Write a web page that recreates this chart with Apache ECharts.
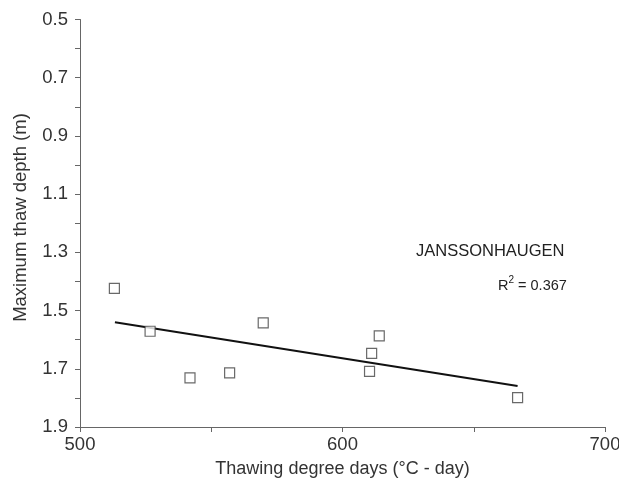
<!DOCTYPE html>
<html>
<head>
<meta charset="utf-8">
<script src="https://cdn.jsdelivr.net/npm/echarts@6/dist/echarts.min.js"></script>
<style>html,body{margin:0;padding:0;background:#fff;}#c{width:619px;height:483px;}</style>
</head>
<body>
<div id="c"></div>
<script>
var tdd = [513.1, 526.7, 541.9, 557.0, 569.8, 610.3, 611.1, 614.0, 666.7];
var depth = [1.424, 1.571, 1.731, 1.714, 1.542, 1.709, 1.647, 1.587, 1.799];
var trendX = [513.3, 666.7];
var trendY = [1.540, 1.759];
var xTickLabels = [500, 600, 700];
var yTickLabels = [0.5, 0.7, 0.9, 1.1, 1.3, 1.5, 1.7, 1.9];
var siteName = 'JANSSONHAUGEN';
var r2 = '0.367';
var xTitle = 'Thawing degree days (\u00B0C - day)';
var yTitle = 'Maximum thaw depth (m)';

var chart = echarts.init(document.getElementById('c'), null, {renderer: 'canvas'});
var font = 'Liberation Sans, Arial, sans-serif';
var axisCol = '#666';
var txtCol = '#333';

chart.setOption({
  animation: false,
  grid: {left: 80, right: 14, top: 19.5, bottom: 56, containLabel: false, outerBoundsMode: 'none'},
  xAxis: {
    type: 'value', min: 500, max: 700, interval: 50,
    name: xTitle, nameLocation: 'middle', nameGap: 33,
    nameTextStyle: {fontFamily: font, fontSize: 18, color: txtCol},
    axisLine: {show: true, lineStyle: {color: axisCol, width: 1}},
    axisTick: {show: true, inside: false, length: 5, lineStyle: {color: axisCol}},
    axisLabel: {fontFamily: font, fontSize: 18.5, color: txtCol, margin: 8,
      formatter: function (v) { return xTickLabels.indexOf(Math.round(v)) >= 0 ? String(Math.round(v)) : ''; }},
    splitLine: {show: false}
  },
  yAxis: {
    type: 'value', min: 0.5, max: 1.9, interval: 0.1, inverse: true,
    axisLine: {show: true, lineStyle: {color: axisCol, width: 1}},
    axisTick: {show: true, inside: false, length: 5, lineStyle: {color: axisCol}},
    axisLabel: {fontFamily: font, fontSize: 18.5, color: txtCol, margin: 12,
      formatter: function (v) {
        var r = Math.round(v * 10) / 10;
        for (var i = 0; i < yTickLabels.length; i++) if (Math.abs(yTickLabels[i] - r) < 1e-6) return r.toFixed(1);
        return '';
      }},
    splitLine: {show: false}
  },
  series: [
    {
      type: 'line', data: trendX.map(function (x, i) { return [x, trendY[i]]; }),
      showSymbol: false, symbol: 'none', lineStyle: {color: '#111', width: 2}, z: 2
    },
    {
      type: 'scatter', data: tdd.map(function (x, i) { return [x, depth[i]]; }),
      symbol: 'rect', symbolSize: 10,
      itemStyle: {color: '#fff', borderColor: '#444', borderWidth: 1.2}, z: 3
    }
  ],
  graphic: [
    {type: 'text', x: 21, y: 217.5, rotation: Math.PI / 2,
      style: {text: yTitle, font: '18.5px ' + font, fill: txtCol, align: 'center', verticalAlign: 'middle'}},
    {type: 'text', left: 416, top: 243, style: {text: siteName, font: '16.5px ' + font, fill: '#222'}},
    {type: 'text', left: 498, top: 275, style: {
      text: '{r|R}{s|2}{r| = ' + r2 + '}',
      rich: {
        r: {fontFamily: font, fontSize: 14.5, fill: '#222', verticalAlign: 'bottom', lineHeight: 18},
        s: {fontFamily: font, fontSize: 10, fill: '#222', verticalAlign: 'top', lineHeight: 18}
      }
    }}
  ]
});
</script>
</body>
</html>
